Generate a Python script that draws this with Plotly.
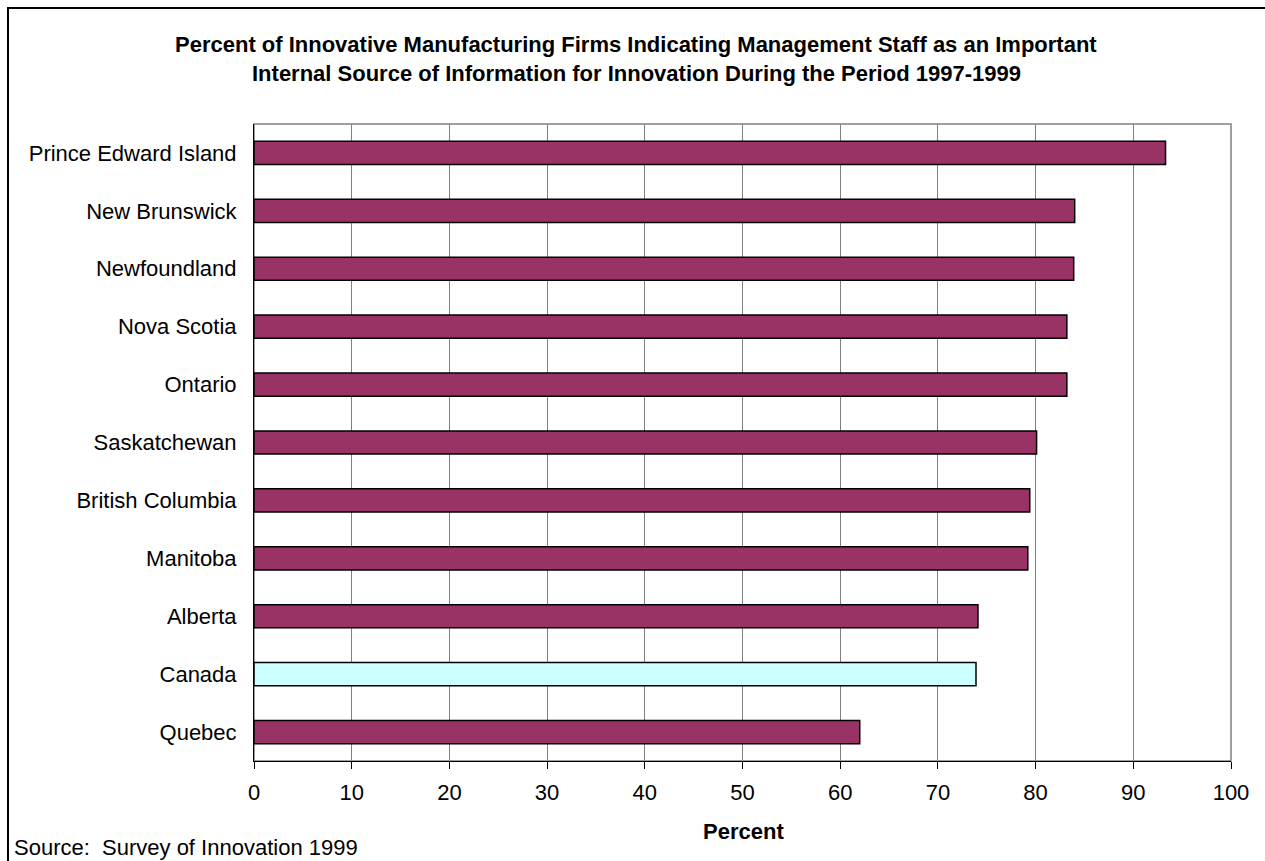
import plotly.graph_objects as go

# Provinces listed top to bottom as they appear on the chart
regions = ["Prince Edward Island", "New Brunswick", "Newfoundland", "Nova Scotia",
           "Ontario", "Saskatchewan", "British Columbia", "Manitoba", "Alberta",
           "Canada", "Quebec"]
percent = [93.3, 84.0, 83.9, 83.2, 83.2, 80.1, 79.4, 79.2, 74.1, 73.9, 62.0]
x_ticks = [0, 10, 20, 30, 40, 50, 60, 70, 80, 90, 100]

W, H = 1265, 861
L, R, T, B = 254, 34, 124, 100
plot_w = W - L - R
plot_h = H - T - B

def px_x(p):
    return (p - L) / plot_w

def px_y(p):
    return 1 + (T - p) / plot_h

FONT = "Liberation Sans, Arial, sans-serif"
FS = 22
bar_colors = ["#CCFFFF" if r == "Canada" else "#993366" for r in regions]

fig = go.Figure()
fig.add_trace(go.Bar(
    x=percent, y=regions, orientation="h",
    marker=dict(color=bar_colors, line=dict(color="black", width=1.5)),
    hoverinfo="x+y",
))

fig.update_layout(
    width=W, height=H,
    margin=dict(l=L, r=R, t=T, b=B, pad=0),
    paper_bgcolor="white", plot_bgcolor="white",
    showlegend=False,
    bargap=0.6,
    font=dict(family=FONT, size=FS, color="black"),
    xaxis=dict(
        range=[0, 100], tickvals=x_ticks, ticktext=[str(v) for v in x_ticks],
        showgrid=True, gridcolor="#808080", gridwidth=1,
        showline=True, linecolor="black", linewidth=1,
        ticks="outside", ticklen=7, tickcolor="black", tickwidth=1,
        ticklabelstandoff=5,
        tickfont=dict(family=FONT, size=FS),
        zeroline=False, fixedrange=True,
    ),
    yaxis=dict(
        autorange="reversed", showgrid=False,
        showline=True, linecolor="black", linewidth=1,
        ticks="", ticklabelstandoff=12,
        tickfont=dict(family=FONT, size=FS),
        fixedrange=True,
    ),
    shapes=[
        # plot-area frame (grey top and right edges)
        dict(type="rect", xref="paper", yref="paper", x0=0, x1=1, y0=0, y1=1,
             line=dict(color="#808080", width=1.5), layer="below"),
        # outer chart border
        dict(type="rect", xref="paper", yref="paper",
             x0=px_x(8), x1=px_x(W + 20), y0=px_y(H + 20), y1=px_y(8),
             line=dict(color="black", width=2)),
    ],
    annotations=[
        dict(text="<b>Percent of Innovative Manufacturing Firms Indicating Management Staff as an Important</b>",
             xref="paper", yref="paper", x=px_x(636), y=px_y(45),
             xanchor="center", yanchor="middle", showarrow=False,
             font=dict(family=FONT, size=FS)),
        dict(text="<b>Internal Source of Information for Innovation During the Period 1997-1999</b>",
             xref="paper", yref="paper", x=px_x(636), y=px_y(74),
             xanchor="center", yanchor="middle", showarrow=False,
             font=dict(family=FONT, size=FS)),
        dict(text="<b>Percent</b>", xref="paper", yref="paper",
             x=px_x(743), y=px_y(831), xanchor="center", yanchor="middle",
             showarrow=False, font=dict(family=FONT, size=FS)),
        dict(text="Source:  Survey of Innovation 1999", xref="paper", yref="paper",
             x=px_x(12), y=px_y(848), xanchor="left", yanchor="middle",
             showarrow=False, font=dict(family=FONT, size=FS)),
    ],
)

fig.write_html("out.html")
